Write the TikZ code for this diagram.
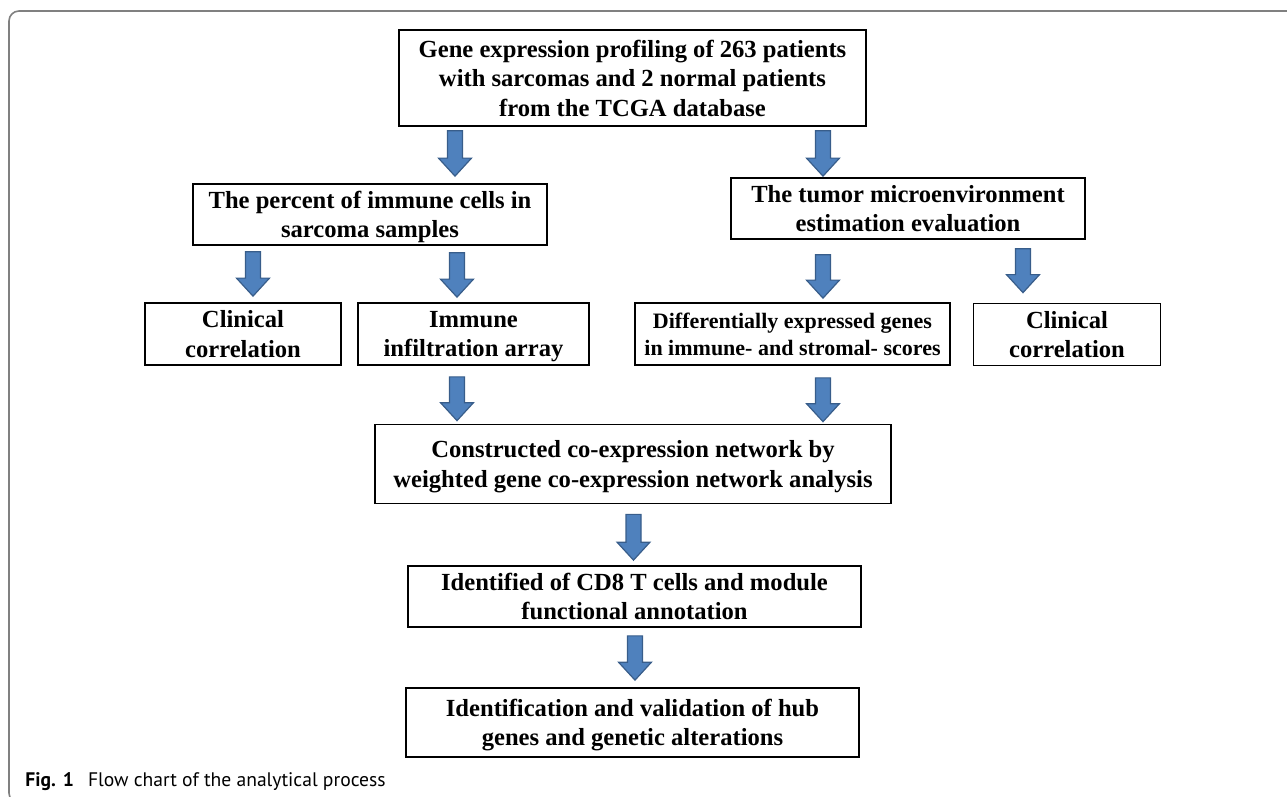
\documentclass[tikz,border=0pt]{standalone}
\usepackage{fontspec}
\setmainfont{Liberation Serif}
\setsansfont{PT Sans}
\usetikzlibrary{calc}
\usepackage{xcolor}
\definecolor{arrowfill}{HTML}{4F81BD}
\definecolor{arrowline}{HTML}{385D8A}
\definecolor{framegray}{HTML}{808080}

\begin{document}
\begin{tikzpicture}[x=0.5pt, y=-0.5pt,
  box/.style={draw=black, line width=0.85pt, inner sep=0pt, align=center,
    text depth=0pt, font=\bfseries\fontsize{12.3}{14.75}\selectfont},
  smallbox/.style={box, font=\bfseries\fontsize{11}{13.5}\selectfont},
  barrow/.style={draw=arrowline, fill=arrowfill, line width=0.6pt,
    to path={let \p1=(\tikztostart), \p2=(\tikztotarget) in
      (\x1-3.75pt,\y1) -- (\x1+3.75pt,\y1) -- (\x1+3.75pt,\y2+9pt)
      -- (\x1+8.25pt,\y2+9pt) -- (\x1,\y2) -- (\x1-8.25pt,\y2+9pt)
      -- (\x1-3.75pt,\y2+9pt) -- cycle}}]
  \useasboundingbox (0,0) rectangle (1287,797);

  \draw [framegray, line width=0.8pt, rounded corners=5pt] (9,11) rectangle (1300,803);

  \node [box, minimum width=233.5pt, minimum height=48pt] (gep) at (632.5,78)
  {Gene expression profiling of 263 patients\\with sarcomas and 2 normal patients\\from the TCGA database};

  \node [box, minimum width=177pt, minimum height=30.5pt] (pct) at (370,214.5)
  {The percent of immune cells in\\sarcoma samples};

  \node [box, minimum width=177pt, minimum height=30.5pt] (tme) at (908,208.5)
  {The tumor microenvironment\\estimation evaluation};

  \node [box, minimum width=98pt, minimum height=31pt] (cc1) at (243,334)
  {Clinical\\correlation};

  \node [box, minimum width=115.5pt, minimum height=31pt] (iia) at (473.5,334)
  {Immune\\infiltration array};

  \node [smallbox, minimum width=157.5pt, minimum height=31pt] (deg) at (792.5,334)
  {Differentially expressed genes\\in immune- and stromal- scores};

  \node [box, minimum width=93.5pt, minimum height=31pt] (cc2) at (1067,334.5)
  {Clinical\\correlation};

  \node [box, minimum width=258pt, minimum height=39.5pt] (net) at (633,464)
  {Constructed co-expression network by\\weighted gene co-expression network analysis};

  \node [box, minimum width=226.5pt, minimum height=30.5pt] (cd8) at (634.5,596.5)
  {Identified of CD8 T cells and module\\functional annotation};

  \node [box, minimum width=226.5pt, minimum height=34.5pt] (hub) at (632.5,722.5)
  {Identification and validation of hub\\genes and genetic alterations};

  \draw [barrow] ([yshift=-2pt]gep.south -| 455,0) to ([yshift=3.5pt]pct.north -| 455,0);
  \draw [barrow] ([yshift=-2pt]gep.south -| 823,0) to ([yshift=0.5pt]tme.north -| 823,0);
  \draw [barrow] ([yshift=-3pt]pct.south -| 253,0) to ([yshift=3pt]cc1.north -| 253,0);
  \draw [barrow] ([yshift=-3.5pt]pct.south -| 457,0) to ([yshift=2.5pt]iia.north -| 457,0);
  \draw [barrow] ([yshift=-7.5pt]tme.south -| 823,0) to ([yshift=2pt]deg.north -| 823,0);
  \draw [barrow] ([yshift=-4.5pt]tme.south -| 1023,0) to ([yshift=5pt]cc2.north -| 1023,0);
  \draw [barrow] ([yshift=-5.5pt]iia.south -| 457,0) to ([yshift=1.5pt]net.north -| 457,0);
  \draw [barrow] ([yshift=-6pt]deg.south -| 823,0) to ([yshift=1pt]net.north -| 823,0);
  \draw [barrow] ([yshift=-5pt]net.south -| 633.5,0) to ([yshift=2.5pt]cd8.north -| 633.5,0); % modules
  \draw [barrow] ([yshift=-4pt]cd8.south -| 635,0) to ([yshift=3.5pt]hub.north -| 635,0); % hub genes

  \node [anchor=base west, inner sep=0pt, font=\sffamily\fontsize{9.8}{11}\selectfont] (cap) at (25,786)
  {\textbf{Fig.\hspace{3.5pt}1}\hspace{7pt}Flow chart of the analytical process};

\end{tikzpicture}
\end{document}
